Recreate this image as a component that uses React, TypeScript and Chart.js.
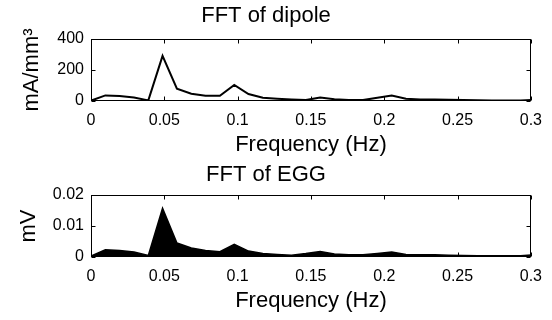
import React, { useEffect, useRef } from "react";
import { Chart, registerables } from "chart.js";

Chart.register(...registerables);

// Frequency bins (Hz)
const freqHz = [
  0, 0.0098, 0.0195, 0.0293, 0.0391, 0.0488, 0.0586, 0.0684, 0.0781, 0.0879,
  0.0977, 0.1074, 0.1172, 0.127, 0.1367, 0.1465, 0.1563, 0.166, 0.1758, 0.1855,
  0.1953, 0.2051, 0.2148, 0.2246, 0.2344, 0.2441, 0.2539, 0.2637, 0.2734, 0.2832,
  0.293, 0.3027,
];

// FFT of dipole (mA/mm^3)
const dipoleAmp = [
  2, 36, 33, 23, 4, 291, 80, 47, 34, 34,
  104, 45, 21, 15, 10, 6, 23, 11, 6, 6,
  21, 36, 15, 10, 9, 8, 7, 5, 3, 3,
  4, 8,
];

// FFT of EGG (mV)
const eggAmp = [
  0.0003, 0.0023, 0.0021, 0.0016, 0.0005, 0.0157, 0.0045, 0.0029, 0.0021, 0.0017,
  0.0041, 0.0019, 0.0011, 0.0008, 0.0006, 0.0011, 0.0018, 0.001, 0.0007, 0.0007,
  0.0011, 0.0016, 0.0008, 0.0007, 0.0007, 0.0006, 0.0005, 0.0004, 0.0004, 0.0004,
  0.0004, 0.0007,
];

const xTickValues = [0, 0.05, 0.1, 0.15, 0.2, 0.25, 0.3];
const xTickLabels = ["0", "0.05", "0.1", "0.15", "0.2", "0.25", "0.3"];
const dipoleTickValues = [0, 200, 400];
const dipoleTickLabels = ["0", "200", "400"];
const eggTickValues = [0, 0.01, 0.02];
const eggTickLabels = ["0", "0.01", "0.02"];

const FONT = "'Liberation Sans', Arial, Helvetica, sans-serif";

const boxPlugin = {
  id: "boxTicks",
  afterDatasetsDraw(chart: any) {
    const { ctx, chartArea, scales } = chart;
    const { left, right, top, bottom } = chartArea;
    const x = scales.x;
    const y = scales.y;
    const L = Math.round(left) + 0.5;
    const R = Math.round(right) - 0.5;
    const T = Math.round(top) + 0.5;
    const B = Math.round(bottom) - 0.5;
    const len = 4;
    ctx.save();
    ctx.strokeStyle = "#000";
    ctx.lineWidth = 1;
    ctx.beginPath();
    x.ticks.forEach((t: any) => {
      const px = Math.round(x.getPixelForValue(t.value)) + 0.5;
      ctx.moveTo(px, B);
      ctx.lineTo(px, B - len);
      ctx.moveTo(px, T);
      ctx.lineTo(px, T + len);
    });
    y.ticks.forEach((t: any) => {
      const py = Math.round(y.getPixelForValue(t.value)) + 0.5;
      ctx.moveTo(L, py);
      ctx.lineTo(L + len, py);
      ctx.moveTo(R, py);
      ctx.lineTo(R - len, py);
    });
    ctx.stroke();
    ctx.strokeRect(L, T, R - L, B - T);
    ctx.restore();
  },
};

function makeConfig(opts: {
  title: string;
  titlePadTop: number;
  yTitle: string;
  yTitlePad: number;
  values: number[];
  yMax: number;
  yTickValues: number[];
  yTickLabels: string[];
  fill: boolean;
  xScaleHeight: number;
  xTitlePadBottom: number;
}) {
  return {
    type: "line",
    data: {
      datasets: [
        {
          data: freqHz.map((f, i) => ({ x: f, y: opts.values[i] })),
          borderColor: "#000",
          backgroundColor: "#000",
          borderWidth: opts.fill ? 1.5 : 2,
          pointRadius: 0,
          tension: 0,
          fill: opts.fill ? "origin" : false,
        },
      ],
    },
    options: {
      responsive: false,
      animation: false,
      devicePixelRatio: 1,
      layout: { padding: { left: 0, right: 20, top: 0, bottom: 0 } },
      plugins: {
        legend: { display: false },
        tooltip: { enabled: false },
        title: {
          display: true,
          text: opts.title,
          color: "#000",
          font: { family: FONT, size: 22, weight: "normal", lineHeight: 1.2 },
          padding: { top: opts.titlePadTop, bottom: 12.6 - opts.titlePadTop },
        },
      },
      scales: {
        x: {
          type: "linear",
          min: 0,
          max: 0.3,
          grid: { display: false, drawTicks: false },
          border: { display: false },
          afterBuildTicks: (scale: any) => {
            scale.ticks = xTickValues.map((v) => ({ value: v }));
          },
          afterFit: (scale: any) => {
            scale.height = opts.xScaleHeight;
          },
          ticks: {
            autoSkip: false,
            maxRotation: 0,
            padding: 10,
            color: "#000",
            font: { family: FONT, size: 16 },
            callback: (_v: any, i: number) => xTickLabels[i],
          },
          title: {
            display: true,
            text: "Frequency (Hz)",
            color: "#000",
            font: { family: FONT, size: 22, lineHeight: 1.2 },
            padding: { top: 0, bottom: opts.xTitlePadBottom },
          },
        },
        y: {
          type: "linear",
          min: 0,
          max: opts.yMax,
          grid: { display: false, drawTicks: false },
          border: { display: false },
          afterBuildTicks: (scale: any) => {
            scale.ticks = opts.yTickValues.map((v) => ({ value: v }));
          },
          afterFit: (scale: any) => {
            scale.width = 91;
          },
          ticks: {
            autoSkip: false,
            padding: 7,
            color: "#000",
            font: { family: FONT, size: 16 },
            callback: (_v: any, i: number) => opts.yTickLabels[i],
          },
          title: {
            display: true,
            text: opts.yTitle,
            color: "#000",
            font: { family: FONT, size: 22, lineHeight: 1.2 },
            padding: { top: opts.yTitlePad, bottom: 0 },
          },
        },
      },
    },
    plugins: [boxPlugin],
  } as any;
}

export default function App() {
  const topRef = useRef<HTMLCanvasElement>(null);
  const botRef = useRef<HTMLCanvasElement>(null);

  useEffect(() => {
    const c1 = new Chart(
      topRef.current as HTMLCanvasElement,
      makeConfig({
        title: "FFT of dipole",
        titlePadTop: 3,
        yTitle: "mA/mm³",
        yTitlePad: 19,
        values: dipoleAmp,
        yMax: 400,
        yTickValues: dipoleTickValues,
        yTickLabels: dipoleTickLabels,
        fill: false,
        xScaleHeight: 59,
        xTitlePadBottom: 1.8,
      })
    );
    const c2 = new Chart(
      botRef.current as HTMLCanvasElement,
      makeConfig({
        title: "FFT of EGG",
        titlePadTop: 6,
        yTitle: "mV",
        yTitlePad: 16,
        values: eggAmp,
        yMax: 0.02,
        yTickValues: eggTickValues,
        yTickLabels: eggTickLabels,
        fill: true,
        xScaleHeight: 63,
        xTitlePadBottom: 5.8,
      })
    );
    return () => {
      c1.destroy();
      c2.destroy();
    };
  }, []);

  return (
    <div
      style={{
        position: "fixed",
        left: 0,
        top: 0,
        width: 552,
        height: 320,
        background: "#fff",
        overflow: "hidden",
      }}
    >
      <canvas
        ref={topRef}
        width={552}
        height={160}
        style={{ position: "absolute", left: 0, top: 0, width: 552, height: 160 }}
      />
      <canvas
        ref={botRef}
        width={552}
        height={164}
        style={{ position: "absolute", left: 0, top: 156, width: 552, height: 164 }}
      />
    </div>
  );
}
